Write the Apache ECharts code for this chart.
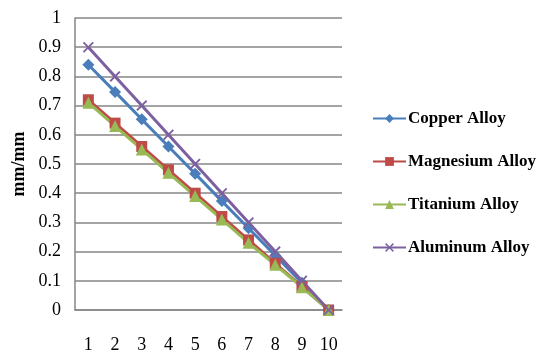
<!DOCTYPE html>
<html><head><meta charset="utf-8">
<script src="https://cdn.jsdelivr.net/npm/echarts@6/dist/echarts.min.js"></script>
<style>html,body{margin:0;padding:0;background:#fff}#c{width:548px;height:356px}</style>
</head><body><div id="c"></div>
<script>
const categories = ['1','2','3','4','5','6','7','8','9','10'];
const copper = [0.84, 0.747, 0.653, 0.56, 0.467, 0.373, 0.28, 0.187, 0.093, 0];
const magnesium = [0.72, 0.64, 0.56, 0.48, 0.40, 0.32, 0.24, 0.16, 0.08, 0];
const titanium = [0.71, 0.63, 0.55, 0.47, 0.39, 0.31, 0.23, 0.155, 0.078, 0];
const aluminum = [0.9, 0.8, 0.7, 0.6, 0.5, 0.4, 0.3, 0.2, 0.1, 0];
const seriesNames = ['Copper Alloy','Magnesium Alloy','Titanium Alloy','Aluminum Alloy'];
const colors = ['#4A7EBB','#BE4B48','#98B954','#7D60A0'];
const xSym = 'path://M0,1.2L1.2,0L5,3.8L8.8,0L10,1.2L6.2,5L10,8.8L8.8,10L5,6.2L1.2,10L0,8.8L3.8,5Z';
const font = '"Liberation Serif", "Times New Roman", serif';
const chart = echarts.init(document.getElementById('c'));
function mk(name, data, color, symbol, size){
  return {name, type:'line', data, symbol, symbolSize:size, showSymbol:true,
    lineStyle:{color, width:3}, itemStyle:{color}, animation:false, z: 2};
}
chart.setOption({
  animation:false,
  color: colors,
  grid:{left:75, right:206, top:18, bottom:46},
  xAxis:{type:'category', data:categories, boundaryGap:true,
    axisLine:{lineStyle:{color:'#868686', width:1.5}}, axisTick:{show:false},
    axisLabel:{color:'#000', fontFamily:font, fontSize:18, margin:26}},
  yAxis:{type:'value', min:0, max:1, interval:0.1,
    name:'mm/mm', nameLocation:'middle', nameGap:47, nameRotate:90,
    nameTextStyle:{color:'#000', fontFamily:font, fontSize:18, fontWeight:'bold'},
    axisLine:{show:true, lineStyle:{color:'#868686', width:1.5}}, axisTick:{show:false},
    splitLine:{lineStyle:{color:'#868686', width:1.5}},
    axisLabel:{color:'#000', fontFamily:font, fontSize:18, margin:14}},
  legend:{orient:'vertical', left:367, top:105, itemGap:26, itemWidth:33, itemHeight:11,
    data: seriesNames,
    textStyle:{color:'#000', fontFamily:font, fontSize:17, fontWeight:'bold', padding:[0,0,0,-3]}},
  series:[
    mk(seriesNames[0], copper, colors[0], 'diamond', 12),
    mk(seriesNames[1], magnesium, colors[1], 'rect', 11),
    mk(seriesNames[2], titanium, colors[2], 'triangle', 12),
    mk(seriesNames[3], aluminum, colors[3], xSym, 11)
  ]
});
</script></body></html>
